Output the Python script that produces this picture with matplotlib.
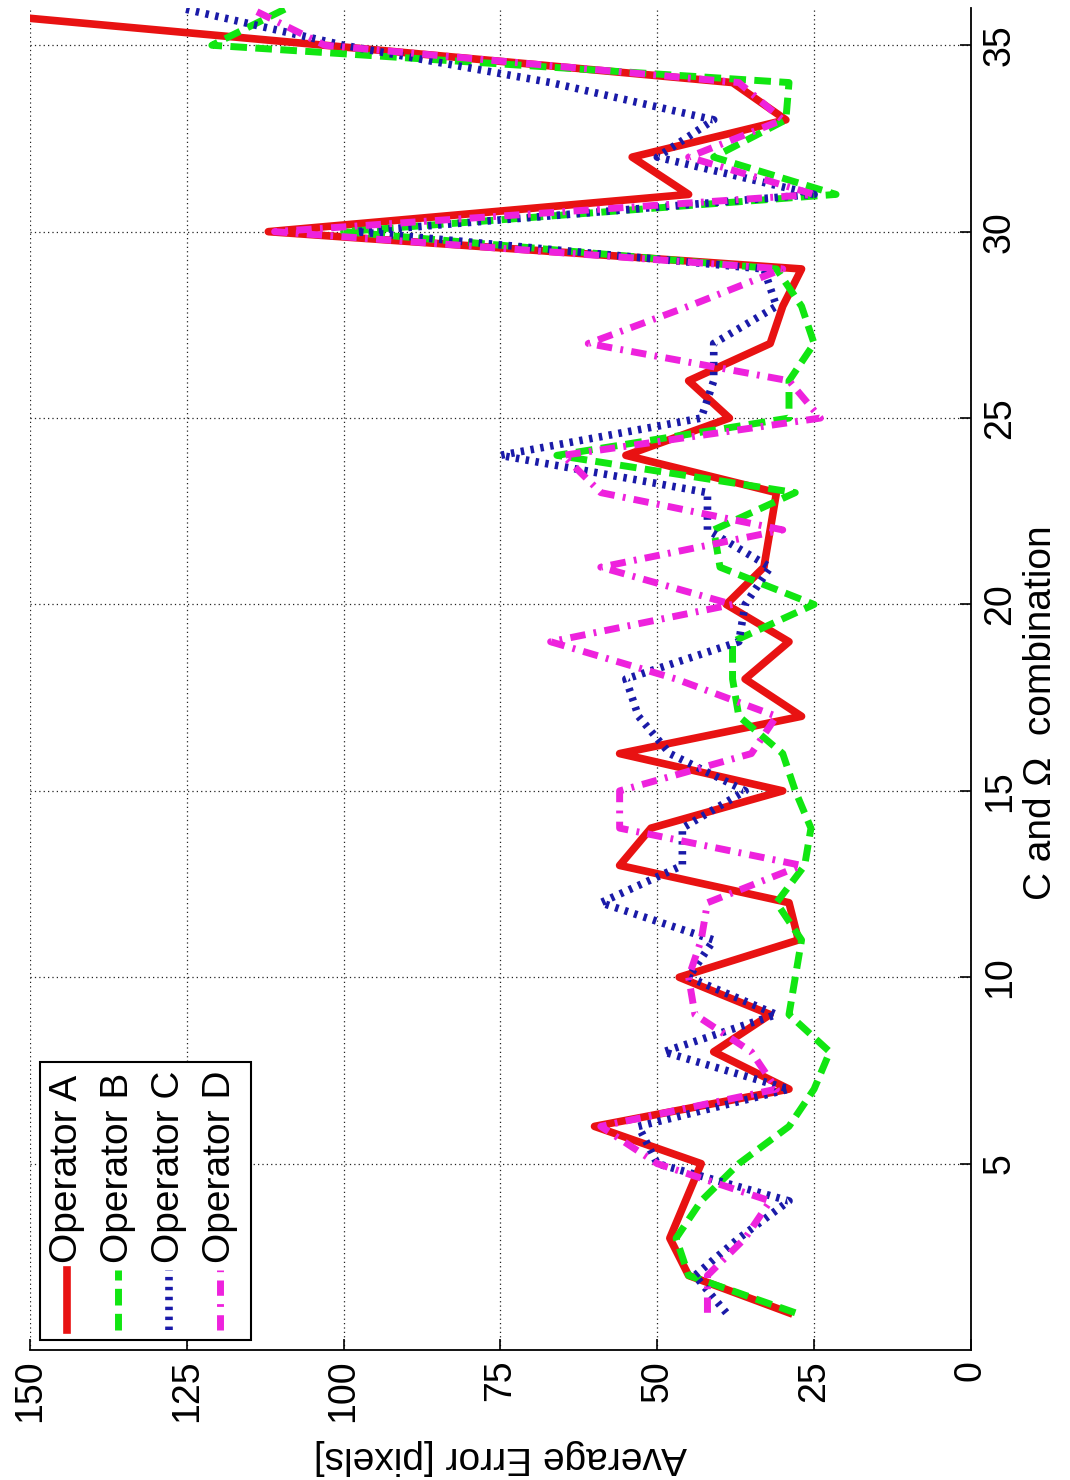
import matplotlib
matplotlib.use("Agg")
import matplotlib.pyplot as plt
from matplotlib.lines import Line2D
from matplotlib.patches import Rectangle

plt.rcParams['font.family'] = ['Liberation Sans', 'DejaVu Sans']

# C and Omega combination index
combination = list(range(1, 37))

# Average error per operator [pixels]
operator_a = [29, 45, 48, 45.5, 43, 60, 29, 41, 32, 46.5, 27.5, 29, 56, 51, 30, 56, 27, 36,
              29, 39, 33, 32, 31, 55, 38.5, 45, 32, 30, 27, 112, 45, 54, 29.5, 38, 103, 168]
operator_b = [28, 45, 47, 43, 37, 29, 25, 22.5, 29, 28, 27, 31, 26.5, 25.5, 28, 30, 37, 38,
              38, 25, 40, 41, 28, 66, 29, 29, 25, 27, 31, 100, 21.5, 41, 29.5, 29, 121, 109]
operator_c = [39, 44, 37, 29, 50, 53, 29, 49, 31, 45, 41, 59, 46, 46, 36, 48, 53, 55,
              37, 36, 32, 42, 42, 75, 43, 41, 41, 31, 33, 98, 25, 50, 41, 67, 100, 126]
operator_d = [42, 42, 36, 32, 50, 59, 31, 35, 44, 45, 43, 42, 27, 56, 56, 35, 31, 47,
              67, 38, 59, 30, 59, 65, 24, 29, 61, 45, 30, 111, 25, 45, 30, 37, 103, 115]

series_labels = ['Operator A', 'Operator B', 'Operator C', 'Operator D']
error_ticks = [0, 25, 50, 75, 100, 125, 150]
combination_ticks = [5, 10, 15, 20, 25, 30, 35]

styles = [
    dict(color='#e81212', linewidth=5.5, linestyle='-'),
    dict(color='#11e611', linewidth=5.0, linestyle=(0, (2.4, 1.2))),
    dict(color='#1a1aa8', linewidth=5.5, linestyle=(0, (0.45, 0.85))),
    dict(color='#ee22dd', linewidth=5.0, linestyle=(0, (2.2, 1.2, 0.4, 1.2))),
]
series = [operator_a, operator_b, operator_c, operator_d]
draw_order = [1, 2, 3, 0]

FS = 27

fig = plt.figure(figsize=(10.7, 14.8), dpi=100)
ax = fig.add_axes([0.028, 0.0878, 0.8794, 0.9068])

# Page is turned sideways: error runs right-to-left, combination runs upward
for i in draw_order:
    ax.plot(series[i], combination, zorder=3 + i, **styles[i])

ax.set_xlim(150, 0)
ax.set_ylim(0, 36)
ax.set_xticks(error_ticks)
ax.set_xticklabels([str(t) for t in error_ticks])
ax.set_yticks(combination_ticks)
ax.set_yticklabels([str(t) for t in combination_ticks])

ax.grid(True, linestyle=(0, (1, 2.5)), color='#222222', linewidth=0.9)
ax.set_axisbelow(True)

for side in ('left', 'top'):
    ax.spines[side].set_visible(False)
for side in ('right', 'bottom'):
    ax.spines[side].set_linewidth(1.3)

ax.yaxis.tick_right()
ax.tick_params(axis='both', direction='in', length=8, width=1.2, labelsize=FS)
ax.tick_params(axis='y', left=False, right=True, labelleft=False, labelright=True, pad=8)
ax.tick_params(axis='x', top=False, bottom=True, pad=7)

for lbl in ax.get_xticklabels():
    lbl.set_rotation(90)
    lbl.set_ha('center')
    lbl.set_va('top')
for lbl in ax.get_yticklabels():
    lbl.set_rotation(90)
    lbl.set_ha('left')
    lbl.set_va('center')

ax.set_xlabel('Average Error [pixels]', fontsize=28, rotation=180)
ax.xaxis.set_label_coords(0.5, -0.066)
ax.yaxis.set_label_position('right')
ax.set_ylabel('C and \u03a9  combination', fontsize=28, rotation=90)
ax.yaxis.set_label_coords(1.055, 0.475)

# Legend, laid out sideways to follow the page orientation
ax.add_patch(Rectangle((0.0106, 0.0075), 0.2244, 0.2071, transform=ax.transAxes,
                       facecolor='white', edgecolor='black', linewidth=1.5, zorder=10))
for i, label in enumerate(series_labels):
    xc = 0.0393 + i * 0.0542
    ax.add_line(Line2D([xc, xc], [0.0149, 0.0596], transform=ax.transAxes,
                       zorder=11, **styles[i]))
    ax.text(xc, 0.0648, label, transform=ax.transAxes, rotation=90, ha='center',
            va='bottom', fontsize=28, zorder=11)

fig.savefig('out.png', dpi=100)
